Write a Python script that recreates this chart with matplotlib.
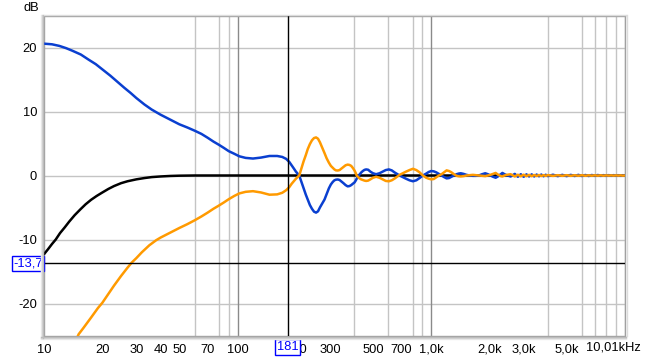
import matplotlib
matplotlib.use("Agg")
import matplotlib.pyplot as plt
import matplotlib.transforms as mtransforms
from matplotlib.lines import Line2D
from matplotlib.ticker import FixedLocator, NullFormatter

plt.rcParams['font.family'] = ['Liberation Sans', 'DejaVu Sans']

# ---------------------------------------------------------------------------
# Dados (Hz, dB)
# ---------------------------------------------------------------------------
black_freq = [10, 10.5, 11, 11.5, 12.1, 12.8, 13.5, 14.4, 15.4, 16.4, 17.5,
              18.7, 19.9, 21.5, 23, 25, 27, 30, 33, 36, 40, 45, 50, 60, 100,
              1000, 10010]
black_db = [-12.3, -11.5, -10.7, -10.0, -9.0, -8.1, -7.2, -6.2, -5.3, -4.5,
            -3.8, -3.2, -2.7, -2.1, -1.65, -1.2, -0.9, -0.6, -0.4, -0.25,
            -0.15, -0.07, -0.03, 0, 0, 0, 0]

blue_low_freq = [10, 11, 12, 13, 14, 15.5, 17, 18.5, 20, 22, 24, 26, 28, 30,
                 33, 36, 40, 45, 50, 55, 60, 65, 70, 75, 80, 85, 90, 96]
blue_low_db = [20.6, 20.5, 20.25, 19.9, 19.5, 18.9, 18.1, 17.4, 16.6, 15.6,
               14.6, 13.7, 12.9, 12.1, 11.1, 10.3, 9.5, 8.7, 8.0, 7.5, 7.0,
               6.5, 5.9, 5.3, 4.8, 4.3, 3.8, 3.4]

orange_low_freq = [14.5, 15.1, 16, 17.5, 19, 20, 21.5, 23, 25, 27, 28.4, 30,
                   32, 35, 38, 40, 45, 50, 55, 60, 65, 70, 75, 80, 85, 90, 96]
orange_low_db = [-26.0, -24.8, -23.8, -22.2, -20.7, -19.9, -18.5, -17.2,
                 -15.7, -14.4, -13.6, -12.9, -12.0, -10.9, -10.1, -9.7, -8.9,
                 -8.2, -7.6, -7.0, -6.4, -5.8, -5.2, -4.7, -4.2, -3.7, -3.2]

mid_freq = [102, 110, 120, 132, 146, 160, 170, 178, 185, 190,
            195, 200, 204, 208, 213, 219, 225, 230, 236, 242,
            248, 254, 260, 266, 273, 281, 288, 296, 303, 310,
            316, 322, 329, 336, 344, 352, 361, 370, 378, 386,
            393, 401, 407, 412, 419, 426, 434, 443, 452, 461,
            472, 485, 500, 519, 540, 560, 582, 604, 625, 645,
            665, 686, 712, 740, 772, 804, 837, 870, 905, 942,
            970, 1000, 1030, 1060, 1095, 1130, 1165, 1200, 1235, 1270,
            1310, 1350, 1385, 1420, 1470, 1520, 1580, 1640, 1700, 1760,
            1830, 1900, 1960, 2020, 2085, 2150, 2195, 2240, 2285, 2330,
            2390, 2450, 2510, 2570]
blue_mid_db = [3.0, 2.75, 2.65, 2.8, 3.05, 3.05, 2.9, 2.6, 2.1, 1.6,
               1.1, 0.6, 0.3, 0.0, -0.9, -2.0, -3.0, -3.75, -4.6, -5.2,
               -5.65, -5.8, -5.6, -5.0, -4.4, -3.75, -2.9, -2.0, -1.4, -1.0,
               -0.75, -0.65, -0.62, -0.7, -0.95, -1.2, -1.5, -1.7, -1.65, -1.5,
               -1.3, -1.1, -0.8, -0.5, -0.15, 0.15, 0.45, 0.7, 0.88, 0.95,
               0.9, 0.6, 0.35, 0.2, 0.35, 0.6, 0.85, 0.95, 0.8, 0.5,
               0.25, 0.0, -0.25, -0.5, -0.75, -0.9, -0.75, -0.4, 0.0, 0.3,
               0.55, 0.7, 0.65, 0.5, 0.25, 0.0, -0.25, -0.45, -0.4, -0.2,
               0.0, 0.2, 0.3, 0.35, 0.25, 0.1, 0.0, -0.05, -0.05, 0.0,
               0.2, 0.35, 0.2, 0.0, -0.2, -0.35, -0.2, 0.0, 0.2, 0.4,
               0.2, 0.05, -0.05, -0.15]
orange_mid_db = [-2.8, -2.55, -2.45, -2.65, -3.0, -2.95, -2.7, -2.3, -1.8, -1.3,
                 -0.9, -0.5, -0.25, 0.0, 1.0, 2.2, 3.2, 4.1, 4.9, 5.5,
                 5.85, 5.95, 5.75, 5.2, 4.4, 3.5, 2.7, 2.0, 1.5, 1.2,
                 0.95, 0.8, 0.78, 0.85, 1.1, 1.35, 1.6, 1.7, 1.65, 1.5,
                 1.2, 0.8, 0.4, 0.0, -0.25, -0.45, -0.6, -0.7, -0.8, -0.85,
                 -0.8, -0.6, -0.35, -0.2, -0.35, -0.6, -0.85, -0.9, -0.75, -0.5,
                 -0.2, 0.1, 0.35, 0.6, 0.85, 1.05, 0.85, 0.5, 0.0, -0.35,
                 -0.5, -0.6, -0.55, -0.3, 0.0, 0.2, 0.5, 0.8, 0.7, 0.5,
                 0.2, -0.05, -0.12, -0.15, -0.1, 0.0, 0.05, 0.1, 0.05, 0.0,
                 -0.05, -0.1, 0.0, 0.1, 0.25, 0.4, 0.2, 0.05, -0.1, -0.15,
                 0.0, 0.1, 0.15, 0.2]

hf_freq = [2700, 2800, 2900, 3000, 3100, 3200, 3300, 3400, 3500, 3600, 3700,
           3800, 3900, 4000, 4250, 4500, 4750, 5000, 5250, 5500, 5750, 6000,
           6250, 6500, 6750, 7000, 7250, 7500, 7750, 8000, 8250, 8500, 8750,
           9000, 9250, 9500, 9750, 10010]
blue_hf_db = [0.25, -0.2, 0.2, -0.2, 0.18, -0.15, 0.18, -0.15, 0.15, -0.12,
              0.15, -0.12, 0.12, -0.1, 0.12, -0.1, 0.1, -0.1, 0.1, -0.08, 0.1,
              -0.08, 0.08, -0.08, 0.08, -0.06, 0.08, -0.06, 0.06, -0.06, 0.06,
              -0.05, 0.06, -0.05, 0.05, -0.05, 0.05, 0.0]
orange_hf_db = [-0.15, 0.12, -0.12, 0.12, -0.1, 0.1, -0.1, 0.08, -0.08, 0.08,
                -0.08, 0.06, -0.06, 0.06, -0.06, 0.05, -0.05, 0.05, -0.05,
                0.04, -0.04, 0.04, -0.04, 0.03, -0.03, 0.03, -0.03, 0.03,
                -0.03, 0.02, -0.02, 0.02, -0.02, 0.02, -0.02, 0.02, -0.02, 0.0]

xtick_vals = [10, 20, 30, 40, 50, 70, 100, 200, 300, 500, 700, 1000, 2000,
              3000, 5000]
xtick_labels = ["10", "20", "30", "40", "50", "70", "100", "200", "300", "500",
                "700", "1,0k", "2,0k", "3,0k", "5,0k"]
ytick_vals = [-20, -10, 0, 10, 20]
ytick_labels = ["-20", "-10", "0", "10", "20"]

cursor_freq = 181
cursor_db = -13.7

FS = 9.3

# ---------------------------------------------------------------------------
W, H = 646, 359
fig = plt.figure(figsize=(W / 100, H / 100), dpi=100)
fig.patch.set_facecolor("white")
ax = fig.add_axes([44 / W, 1 - 335.5 / H, (625 - 44) / W, (335.5 - 15.5) / H])
ax.set_xscale("log")
ax.set_xlim(10, 10010)
ax.set_ylim(-25, 25)

# grade
minor_pos = [m * d for d in (10, 100, 1000) for m in range(1, 10)] + [10000]
ax.xaxis.set_minor_locator(FixedLocator(minor_pos))
ax.xaxis.set_minor_formatter(NullFormatter())
ax.xaxis.set_major_locator(FixedLocator(xtick_vals))
ax.set_xticklabels(xtick_labels)
ax.set_yticks(ytick_vals)
ax.set_yticklabels(ytick_labels)
ax.grid(which="minor", axis="x", color="#c4c4c4", lw=1.0)
ax.grid(which="major", axis="x", visible=False)
ax.grid(which="major", axis="y", color="#c4c4c4", lw=1.0)
for d in (100, 1000):
    ax.axvline(d, color="#8a8a8a", lw=1.0, zorder=0.9)
ax.tick_params(which="both", length=0, labelsize=FS, colors="black")
ax.tick_params(axis="x", pad=6)
ax.tick_params(axis="y", pad=5)
ax.set_axisbelow(True)
for s in ax.spines.values():
    s.set_color("#a0a0a0")
    s.set_linewidth(1.0)

# curvas
ax.plot(black_freq, black_db, color="black", lw=1.8, zorder=3,
        solid_capstyle="round", solid_joinstyle="round")
ax.plot(blue_low_freq + mid_freq + hf_freq,
        blue_low_db + blue_mid_db + blue_hf_db,
        color="#0a3fd0", lw=1.8, zorder=4,
        solid_capstyle="round", solid_joinstyle="round")
ax.plot(orange_low_freq + mid_freq + hf_freq,
        orange_low_db + orange_mid_db + orange_hf_db,
        color="#ff9a00", lw=1.8, zorder=5,
        solid_capstyle="round", solid_joinstyle="round")

# cursores
ax.axvline(cursor_freq, color="black", lw=1.0, zorder=6)
ax.axhline(cursor_db, color="black", lw=1.0, zorder=6)

trans_x = mtransforms.blended_transform_factory(ax.transData, ax.transAxes)
trans_y = mtransforms.blended_transform_factory(ax.transAxes, ax.transData)
ax.text(cursor_freq, -(347 - 335.5) / 320, "181", transform=trans_x,
        ha="center", va="center", fontsize=FS, color="#0000ff", zorder=10,
        clip_on=False,
        bbox=dict(boxstyle="square,pad=0.15", fc="white", ec="#0000ff", lw=1))
ax.text(-0.002, cursor_db, "-13,7", transform=trans_y, ha="right",
        va="center", fontsize=FS, color="#0000ff", zorder=10, clip_on=False,
        bbox=dict(boxstyle="square,pad=0.12", fc="white", ec="#0000ff", lw=1))

# rotulos extras
ax.text((641 - 44) / 581, -(348 - 335.5) / 320, "10,01kHz",
        transform=ax.transAxes, ha="right", va="center", fontsize=FS)
fig.text(31.5 / W, 1 - 8 / H, "dB", ha="center", va="center", fontsize=FS)


# sombra da moldura
def _fig_line(x0, y0, x1, y1, color):
    fig.add_artist(Line2D([x0 / W, x1 / W], [1 - y0 / H, 1 - y1 / H],
                          transform=fig.transFigure, color=color, lw=1.0))


for i, c in enumerate(["#ececec", "#d6d6d6", "#bcbcbc"]):
    _fig_line(40.5 + i, 15, 40.5 + i, 338, c)
    _fig_line(41, 338.5 - i, 626, 338.5 - i, c)
_fig_line(626.5, 15, 626.5, 336, "#dcdcdc")
_fig_line(44, 14.5, 626, 14.5, "#dcdcdc")

fig.savefig("out.png", dpi=100)
plt.close(fig)
